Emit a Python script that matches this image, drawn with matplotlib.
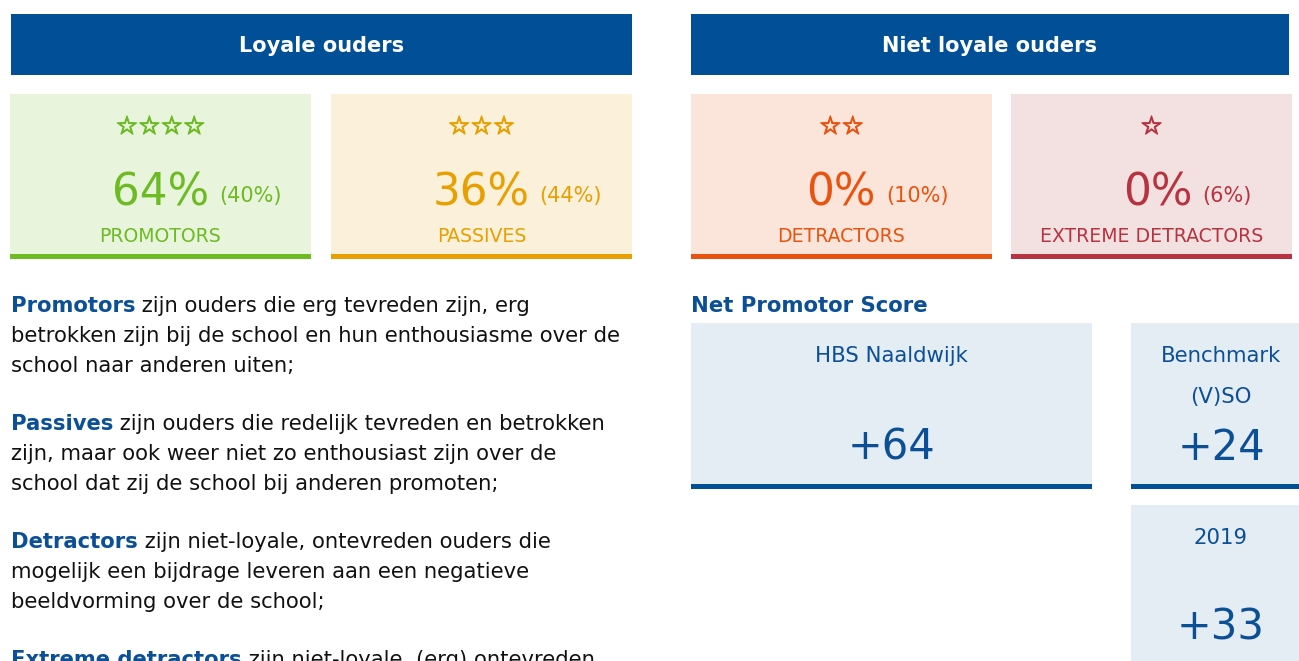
import matplotlib
matplotlib.use("Agg")
import matplotlib.pyplot as plt
import matplotlib.patheffects as pe
from matplotlib.patches import Rectangle

# --- data ---
groups = ["Loyale ouders", "Niet loyale ouders"]
categories = ["PROMOTORS", "PASSIVES", "DETRACTORS", "EXTREME DETRACTORS"]
n_stars = [4, 3, 2, 1]
school_pct = [64, 36, 0, 0]
benchmark_pct = [40, 44, 10, 6]

nps_title = "Net Promotor Score"
nps_labels = ["HBS Naaldwijk", "Benchmark\n(V)SO", "2019"]
nps_values = [64, 24, 33]

terms = ["Promotors", "Passives", "Detractors", "Extreme detractors"]
descriptions = [
    [" zijn ouders die erg tevreden zijn, erg",
     "betrokken zijn bij de school en hun enthousiasme over de",
     "school naar anderen uiten;"],
    [" zijn ouders die redelijk tevreden en betrokken",
     "zijn, maar ook weer niet zo enthousiast zijn over de",
     "school dat zij de school bij anderen promoten;"],
    [" zijn niet-loyale, ontevreden ouders die",
     "mogelijk een bijdrage leveren aan een negatieve",
     "beeldvorming over de school;"],
    [" zijn niet-loyale, (erg) ontevreden"],
]

# --- style ---
BLUE = "#004f97"
TEXT_BLUE = "#0b4f96"
card_bg = ["#e8f4dc", "#fbf0d9", "#fbe4da", "#f3e1e1"]
card_fg = ["#6dbb22", "#e8a000", "#e8540f", "#b83340"]
NPS_BG = "#e4ecf4"
BODY = 15.2

plt.rcParams["font.family"] = ["DejaVu Sans"]

W, H = 1299, 661
fig = plt.figure(figsize=(W / 100, H / 100), dpi=100)
ax = fig.add_axes([0, 0, 1, 1])
ax.set_xlim(0, W)
ax.set_ylim(H, 0)
ax.axis("off")
renderer = fig.canvas.get_renderer()


def text_width(t):
    return t.get_window_extent(renderer=renderer).width


# headers
header_x = [(11, 632), (691, 1289)]
for (x0, x1), g in zip(header_x, groups):
    ax.add_patch(Rectangle((x0, 14), x1 - x0, 61, color=BLUE, lw=0))
    ax.text((x0 + x1) / 2, 46, g, color="white", fontsize=15, fontweight="bold",
            ha="center", va="center")

# category cards
card_x = [(10, 311), (331, 632), (691, 992), (1011, 1292)]
for i, (x0, x1) in enumerate(card_x):
    ax.add_patch(Rectangle((x0, 94), x1 - x0, 160, color=card_bg[i], lw=0))
    ax.add_patch(Rectangle((x0, 254), x1 - x0, 5, color=card_fg[i], lw=0))
    cx = (x0 + x1) / 2
    ax.text(cx, 127, "\u2606" * n_stars[i], color=card_fg[i], fontsize=18,
            fontweight="bold", ha="center", va="center",
            path_effects=[pe.withStroke(linewidth=0.9, foreground=card_fg[i])])
    big = ax.text(0, 205, f"{school_pct[i]}%", color=card_fg[i], fontsize=31.5,
                  ha="left", va="baseline")
    small = ax.text(0, 202, f"({benchmark_pct[i]}%)", color=card_fg[i], fontsize=15,
                    ha="left", va="baseline")
    wb, ws = text_width(big), text_width(small)
    gap = 10
    start = cx + 36 - (wb + gap + ws) / 2
    big.set_x(start)
    small.set_x(start + wb + gap)
    ax.text(cx, 237, categories[i], color=card_fg[i], fontsize=13.6,
            ha="center", va="center")

# descriptions
line_h = 30
para_y = [306, 424, 542, 660]
for term, lines, y0 in zip(terms, descriptions, para_y):
    t = ax.text(11, y0, term, color=TEXT_BLUE, fontsize=BODY, fontweight="bold",
                ha="left", va="center")
    ax.text(11 + text_width(t), y0, lines[0], color="#111111", fontsize=BODY,
            ha="left", va="center")
    for k, line in enumerate(lines[1:], start=1):
        ax.text(11, y0 + k * line_h, line, color="#111111", fontsize=BODY,
                ha="left", va="center")

# net promotor score
ax.text(691, 306, nps_title, color=TEXT_BLUE, fontsize=15.3, fontweight="bold",
        ha="left", va="center")
nps_boxes = [(691, 1092, 323, 489), (1131, 1311, 323, 489), (1131, 1311, 505, 700)]
for (x0, x1, y0, y1), lab, val in zip(nps_boxes, nps_labels, nps_values):
    bar = y1 < H
    ax.add_patch(Rectangle((x0, y0), x1 - x0, y1 - y0, color=NPS_BG, lw=0))
    if bar:
        ax.add_patch(Rectangle((x0, y1 - 5), x1 - x0, 5, color=BLUE, lw=0))
    cx = (x0 + x1) / 2
    for k, part in enumerate(lab.split("\n")):
        ax.text(cx, y0 + 33 + k * 41, part, color=TEXT_BLUE, fontsize=15.3,
                ha="center", va="center")
    val_y = y0 + 137 if bar else y0 + 135
    ax.text(cx, val_y, f"+{val}", color=TEXT_BLUE, fontsize=30,
            ha="center", va="baseline")

fig.savefig("out.png", dpi=100)
